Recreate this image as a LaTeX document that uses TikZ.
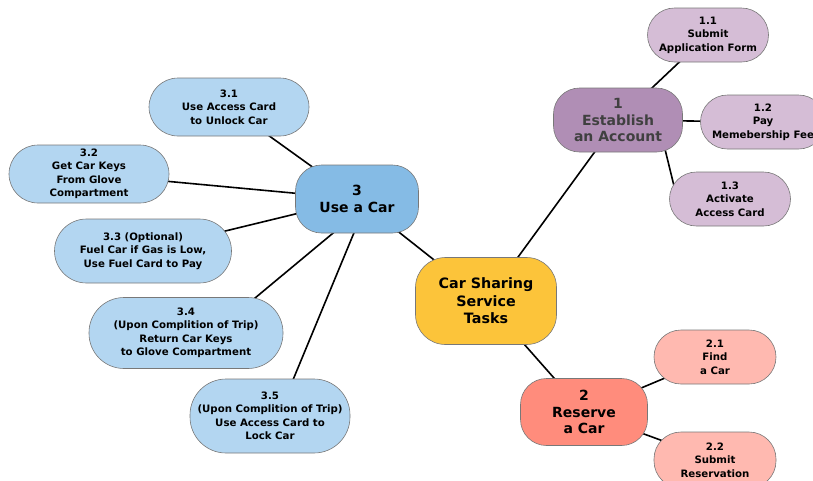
\documentclass[tikz,border=0pt]{standalone}
\usepackage{fontspec}
\setmainfont{DejaVu Sans}
\usetikzlibrary{backgrounds}

\begin{document}
\begin{tikzpicture}[x=1pt, y=-1pt]
      % Define colors
      \definecolor{rootyellow}{RGB}{252, 196, 58}
      \definecolor{acctpurple}{RGB}{176, 142, 181}
      \definecolor{acctlight}{RGB}{213, 189, 214}
      \definecolor{resred}{RGB}{255, 140, 124}
      \definecolor{reslight}{RGB}{255, 185, 176}
      \definecolor{useblue}{RGB}{133, 187, 229}
      \definecolor{uselight}{RGB}{179, 214, 241}
      \definecolor{edgegray}{RGB}{120, 120, 120}

      % Styles
      \tikzset{
        task/.style={draw=edgegray, line width=0.6pt, align=center, inner sep=2pt,
          font=\fontsize{10.2}{13.5}\selectfont\bfseries, rounded corners=27pt},
        maintask/.style={task, font=\fontsize{14}{16.8}\selectfont\bfseries, rounded corners=26pt},
        link/.style={line width=1.6pt, black}
      }

      \useasboundingbox (0,0) rectangle (813,480);

      % Root node
      \node[maintask, fill=rootyellow, minimum width=141pt, minimum height=87pt,
        font=\fontsize{14.3}{17.5}\selectfont\bfseries, rounded corners=30pt]
        (root) at (486,301) {Car Sharing\\Service\\Tasks};

      % 1 Establish an Account
      \node[maintask, fill=acctpurple, text=black!75, minimum width=129pt, minimum height=64pt]
        (acct) at (618,120) {1\\Establish\\an Account};
      \node[task, fill=acctlight, minimum width=121pt, minimum height=54pt]
        (acctA) at (708,35) {1.1\\Submit\\Application Form};
      \node[task, fill=acctlight, minimum width=125pt, minimum height=54pt]
        (acctB) at (763,122) {1.2\\Pay\\Memebership Fee};
      \node[task, fill=acctlight, minimum width=121pt, minimum height=54pt]
        (acctC) at (730,199) {1.3\\Activate\\Access Card};

      % 2 Reserve a Car
      \node[maintask, fill=resred, minimum width=127pt, minimum height=67pt]
        (res) at (584,412) {2\\Reserve\\a Car};
      \node[task, fill=reslight, minimum width=122pt, minimum height=54pt]
        (resA) at (715,357) {2.1\\Find\\a Car};
      \node[task, fill=reslight, minimum width=122pt, minimum height=56pt]
        (resB) at (715,460) {2.2\\Submit\\Reservation};

      % 3 Use a Car
      \node[maintask, fill=useblue, minimum width=123pt, minimum height=68pt]
        (use) at (357,199) {3\\Use a Car};
      \node[task, fill=uselight, minimum width=160pt, minimum height=58pt, rounded corners=29pt]
        (useA) at (229,107) {3.1\\Use Access Card\\to Unlock Car};
      \node[task, fill=uselight, minimum width=160pt, minimum height=58pt, rounded corners=29pt]
        (useB) at (89,174) {3.2\\Get Car Keys\\From Glove\\Compartment};
      \node[task, fill=uselight, minimum width=177pt, minimum height=64pt, rounded corners=32pt]
        (useC) at (143,251) {3.3 (Optional)\\Fuel Car if Gas is Low,\\Use Fuel Card to Pay};
      \node[task, fill=uselight, minimum width=194pt, minimum height=71pt, rounded corners=35pt]
        (useD) at (186,333) {3.4\\(Upon Complition of Trip)\\Return Car Keys\\to Glove Compartment};
      \node[task, fill=uselight, minimum width=160pt, minimum height=74pt, rounded corners=36pt]
        (useE) at (270,416) {3.5\\(Upon Complition of Trip)\\Use Access Card to\\Lock Car};

      % Connection lines
      \begin{scope}[on background layer]
        \draw[link] (root.center) -- (acct.center);
        \draw[link] (root.center) -- (res.center);
        \draw[link] (root.center) -- (use.center);
        \draw[link] (acct.center) -- (acctA.center);
        \draw[link] (acct.center) -- (acctB.center);
        \draw[link] ([xshift=-19pt, yshift=8pt]acct.south east) -- ([xshift=8pt]acctC.west);
        \draw[link] (res.center) -- (resA.center);
        \draw[link] (res.center) -- (resB.center);
        \foreach \leaf in {useA, useB, useC}
          \draw[link] (use.center) -- (\leaf.center);
        \draw[link] ([xshift=17pt]use.center) -- ([xshift=27pt]useD.center);
        \draw[link] ([xshift=11pt]use.center) -- ([xshift=8pt]useE.center);
      \end{scope}

    \end{tikzpicture}
\end{document}
